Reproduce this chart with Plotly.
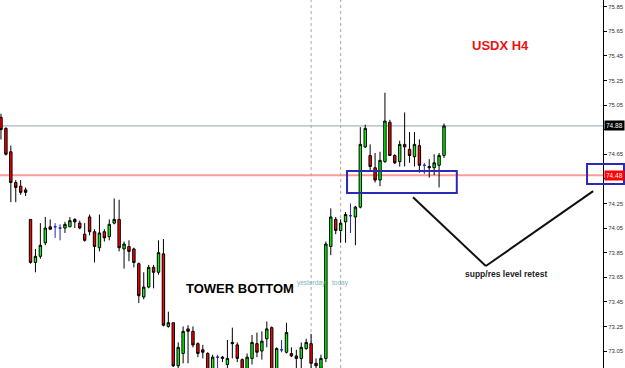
import plotly.graph_objects as go

# ---- data (USDX H4) ----
opens = [74.95, 74.86, 74.67, 74.42, 74.39, 74.36, 74.12, 73.77, 73.82, 73.93,
         74.06, 74.06, 74.05, 74.05, 74.06, 74.12, 74.09, 74.00, 74.14, 74.02,
         73.89, 74.02, 73.98, 74.09, 74.12, 73.88, 73.90, 73.88, 73.76, 73.49,
         73.57, 73.73, 73.69, 73.84, 73.25, 73.28, 72.93, 73.03, 73.23, 73.21,
         73.11, 73.06, 73.03, 72.90, 73.00, 72.99, 72.94, 73.12, 73.10, 72.98,
         72.90, 72.99, 73.11, 73.05, 73.15, 73.24, 72.90, 73.06, 73.04, 73.03,
         73.01, 72.99, 73.07, 73.11, 72.95, 72.91, 72.99, 73.90, 74.12, 74.03,
         74.10, 74.15, 74.14, 74.22, 74.71, 74.64, 74.54, 74.44, 74.59, 74.91,
         74.64, 74.59, 74.73, 74.69, 74.63, 74.72, 74.56, 74.55, 74.54, 74.56,
         74.64]
highs = [74.98, 74.87, 74.72, 74.44, 74.44, 74.38, 74.12, 73.88, 74.09, 74.14,
         74.12, 74.09, 74.08, 74.10, 74.14, 74.13, 74.11, 74.09, 74.16, 74.04,
         74.16, 74.04, 74.12, 74.29, 74.28, 73.94, 73.95, 73.89, 73.77, 73.69,
         73.75, 73.75, 73.95, 73.96, 73.37, 73.28, 73.12, 73.25, 73.26, 73.25,
         73.12, 73.10, 73.04, 73.02, 73.02, 73.01, 73.14, 73.24, 73.12, 72.99,
         73.03, 73.18, 73.20, 73.21, 73.29, 73.25, 73.08, 73.14, 73.28, 73.08,
         73.06, 73.12, 73.15, 73.19, 72.99, 73.02, 73.94, 74.21, 74.14, 74.12,
         74.18, 74.25, 74.23, 74.87, 74.89, 74.73, 74.66, 74.67, 75.15, 74.93,
         74.65, 74.76, 74.99, 74.83, 74.83, 74.77, 74.58, 74.61, 74.65, 74.66,
         74.90]
lows = [74.77, 74.64, 74.26, 74.26, 74.32, 74.31, 73.76, 73.69, 73.80, 73.91,
        74.04, 73.97, 73.95, 74.01, 74.06, 74.05, 74.04, 73.94, 73.99, 73.77,
        73.86, 73.94, 73.95, 74.08, 73.86, 73.72, 73.78, 73.73, 73.44, 73.47,
        73.56, 73.56, 73.67, 73.25, 73.24, 72.92, 72.91, 72.95, 72.95, 73.08,
        73.00, 72.99, 72.88, 72.88, 72.91, 72.96, 72.90, 72.99, 72.96, 72.88,
        72.88, 72.94, 73.00, 72.98, 73.08, 72.88, 72.88, 73.04, 73.03, 73.00,
        72.88, 72.91, 73.06, 72.91, 72.88, 72.88, 72.96, 73.83, 74.00, 73.93,
        73.93, 74.01, 73.91, 74.21, 74.70, 74.51, 74.42, 74.39, 74.58, 74.64,
        74.57, 74.55, 74.55, 74.58, 74.55, 74.50, 74.49, 74.46, 74.48, 74.38,
        74.62]
closes = [74.85, 74.65, 74.42, 74.38, 74.34, 74.34, 73.77, 73.82, 73.91, 74.05,
          74.04, 74.06, 74.05, 74.08, 74.11, 74.10, 74.05, 73.95, 74.02, 73.90,
          74.01, 73.97, 74.08, 74.12, 73.89, 73.92, 73.86, 73.77, 73.50, 73.57,
          73.73, 73.69, 73.85, 73.26, 73.28, 72.93, 73.08, 73.21, 73.21, 73.10,
          73.03, 73.04, 72.90, 73.00, 73.00, 73.00, 72.99, 73.11, 72.99, 72.90,
          73.00, 73.12, 73.04, 73.13, 73.23, 72.90, 73.07, 73.06, 73.20, 73.01,
          72.99, 73.08, 73.12, 72.95, 72.93, 72.99, 73.92, 74.14, 74.03, 74.09,
          74.16, 74.15, 74.22, 74.73, 74.86, 74.55, 74.44, 74.60, 74.92, 74.64,
          74.58, 74.73, 74.71, 74.64, 74.73, 74.56, 74.56, 74.54, 74.58, 74.64,
          74.88]

tick_vals = [73.05, 73.25, 73.45, 73.65, 73.85, 74.05, 74.25, 74.45, 74.65,
             74.85, 75.05, 75.25, 75.45, 75.65, 75.85]
# 74.45 and 74.85 labels are hidden under the price boxes in the original
hidden_ticks = [74.45, 74.85]
tick_text = ["" if v in hidden_ticks else "%.2f" % v for v in tick_vals]

last_price = 74.88
level_price = 74.48
separators = [63, 69]
separator_labels = ["yesterday", "today"]

idx = list(range(len(opens)))
doji = [i for i in idx if opens[i] == closes[i]]
norm = [i for i in idx if opens[i] != closes[i]]

def pick(arr, ids):
    return [arr[i] for i in ids]

fig = go.Figure()
fig.add_trace(go.Candlestick(
    x=norm, open=pick(opens, norm), high=pick(highs, norm),
    low=pick(lows, norm), close=pick(closes, norm),
    increasing=dict(fillcolor="#00ff00", line=dict(color="#000000", width=1)),
    decreasing=dict(fillcolor="#ff0000", line=dict(color="#000000", width=1)),
    whiskerwidth=0, showlegend=False, hoverinfo="skip"))
fig.add_trace(go.Candlestick(
    x=doji, open=pick(opens, doji), high=pick(highs, doji),
    low=pick(lows, doji), close=pick(closes, doji),
    increasing=dict(fillcolor="#2424c8", line=dict(color="#2424c8", width=1)),
    decreasing=dict(fillcolor="#2424c8", line=dict(color="#2424c8", width=1)),
    whiskerwidth=0, showlegend=False, hoverinfo="skip"))

shapes = []
# horizontal price lines
shapes.append(dict(type="line", xref="paper", x0=0, x1=1, yref="y",
                   y0=last_price, y1=last_price, line=dict(color="#aab6c2", width=1.2), layer="below"))
shapes.append(dict(type="line", xref="paper", x0=0, x1=1, yref="y",
                   y0=level_price, y1=level_price, line=dict(color="#ff9a9a", width=2), layer="below"))
# period separators
for s in separators:
    shapes.append(dict(type="line", xref="x", x0=s, x1=s, yref="paper", y0=0, y1=1,
                       line=dict(color="#a8a8a8", width=1, dash="dot"), layer="below"))
# blue boxes
shapes.append(dict(type="rect", xref="x", x0=70.3, x1=92.6, yref="y", y0=74.335, y1=74.514,
                   line=dict(color="#2a2ab4", width=2)))
shapes.append(dict(type="rect", xref="paper", x0=0.9735, x1=1.0348, yref="y", y0=74.408, y1=74.571,
                   line=dict(color="#2a2ab4", width=2)))
# V lines
shapes.append(dict(type="line", xref="x", yref="y", x0=83.7, y0=74.30, x1=98.5, y1=73.741,
                   line=dict(color="#111111", width=2)))
shapes.append(dict(type="line", xref="x", yref="y", x0=98.5, y0=73.741, x1=120.3, y1=74.35,
                   line=dict(color="#111111", width=2)))

annotations = [
    dict(x=48.5, y=73.556, xref="x", yref="y", text="<b>TOWER BOTTOM</b>", showarrow=False,
         font=dict(family="Liberation Sans, Arial", size=13, color="#000000")),
    dict(x=101.4, y=75.538, xref="x", yref="y", text="<b>USDX H4</b>", showarrow=False,
         font=dict(family="Liberation Sans, Arial", size=13, color="#ee1111")),
    dict(x=102.5, y=73.676, xref="x", yref="y", text="<b>supp/res level retest</b>", showarrow=False,
         font=dict(family="Liberation Sans, Arial", size=8.5, color="#222222")),
    dict(x=1, xref="paper", xanchor="left", xshift=1, y=last_price, yref="y", text="74.88",
         showarrow=False, bgcolor="#000000", borderpad=1,
         font=dict(family="Liberation Sans, Arial", size=6.5, color="#ffffff")),
    dict(x=1, xref="paper", xanchor="left", xshift=1, y=level_price, yref="y", text="74.48",
         showarrow=False, bgcolor="#ff0000", borderpad=1,
         font=dict(family="Liberation Sans, Arial", size=6.5, color="#ffffff")),
]
for s, lab in zip(separators, separator_labels):
    annotations.append(dict(x=s, y=73.60, xref="x", yref="y", text=lab, showarrow=False,
                            font=dict(family="Liberation Sans, Arial", size=6.5, color="#7fb2c2")))

fig.update_layout(
    width=625, height=368,
    margin=dict(l=0, r=22, t=0, b=0),
    paper_bgcolor="#ffffff", plot_bgcolor="#ffffff",
    shapes=shapes, annotations=annotations,
    xaxis=dict(range=[-0.2, 122.3], visible=False, rangeslider=dict(visible=False),
               showgrid=False, zeroline=False),
    yaxis=dict(range=[72.912, 75.904], side="right", showgrid=False, zeroline=False,
               showline=True, linecolor="#000000", linewidth=1,
               ticks="outside", ticklen=3, tickcolor="#000000",
               tickvals=tick_vals, ticktext=tick_text,
               tickfont=dict(family="Liberation Sans, Arial", size=6, color="#333333")),
)

fig.write_html("out.html")
